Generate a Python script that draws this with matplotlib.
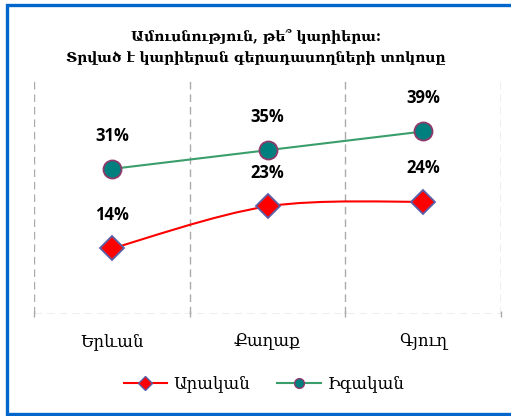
import matplotlib
matplotlib.use("Agg")
import matplotlib.pyplot as plt
from matplotlib.path import Path
from matplotlib.patches import PathPatch
from matplotlib.lines import Line2D

categories = ["Երևան", "Քաղաք", "Գյուղ"]
male = [14, 23, 24]
female = [31, 35, 39]
series_names = ["Արական", "Իգական"]
title = "Ամուսնություն, թե՞ կարիերա:\nՏրված է կարիերան գերադասողների տոկոսը"

arm_font = ["DejaVu Serif", "DejaVu Sans"]
num_font = ["Open Sans", "DejaVu Sans"]

fig = plt.figure(figsize=(5.11, 4.16), dpi=100)
ax = fig.add_axes([34/511, 1-314/416, (501-34)/511, (314-80)/416])

x = list(range(len(categories)))


def smooth_path(xs, ys):
    pts = list(zip(xs, ys))
    n = len(pts)
    verts = [pts[0]]
    codes = [Path.MOVETO]
    for i in range(n - 1):
        p0 = pts[i - 1] if i > 0 else pts[i]
        p1 = pts[i]
        p2 = pts[i + 1]
        p3 = pts[i + 2] if i + 2 < n else pts[i + 1]
        c1 = (p1[0] + (p2[0] - p0[0]) / 6, p1[1] + (p2[1] - p0[1]) / 6)
        c2 = (p2[0] - (p3[0] - p1[0]) / 6, p2[1] - (p3[1] - p1[1]) / 6)
        verts += [c1, c2, p2]
        codes += [Path.CURVE4] * 3
    return Path(verts, codes)


red_line = "#FF0000"
green_line = "#3A9E6A"

ax.add_patch(PathPatch(smooth_path(x, male), facecolor="none", edgecolor=red_line, lw=1.5, zorder=3))
ax.add_patch(PathPatch(smooth_path(x, female), facecolor="none", edgecolor=green_line, lw=1.5, zorder=3))

ax.plot(x, male, ls="none", marker="D", ms=12.5, mfc="#FF0000", mec="#5A5FA8", mew=1.3, zorder=4)
ax.plot(x, female, ls="none", marker="o", ms=13, mfc="#007F7F", mec="#8E3A6A", mew=1.3, zorder=4)

for xi, v in zip(x, male):
    ax.annotate(f"{v}%", (xi, v), xytext=(0, 24), textcoords="offset points", ha="center", va="center",
                fontsize=12, fontweight="bold", family=num_font, color="#000000")
for xi, v in zip(x, female):
    ax.annotate(f"{v}%", (xi, v), xytext=(0, 24), textcoords="offset points", ha="center", va="center",
                fontsize=12, fontweight="bold", family=num_font, color="#000000")

ax.set_xlim(-0.5, len(categories) - 0.5)
ax.set_ylim(0, 50)

grid_kw = dict(color="#ABABAB", lw=1.0, ls=(0, (5.5, 3.5)), zorder=1)
for b in [i - 0.5 for i in range(len(categories) + 1)]:
    ax.axvline(b, **grid_kw)
ax.axhline(0, **grid_kw)

for s in ax.spines.values():
    s.set_visible(False)
ax.set_yticks([])
ax.set_xticks([i - 0.5 for i in range(len(categories) + 1)], minor=False)
ax.set_xticklabels([])
ax.tick_params(axis="x", length=5, color="#ABABAB", width=1.0, direction="inout")
ax.set_xticks(x, minor=True)
ax.set_xticklabels(categories, minor=True, family=arm_font, fontsize=12)
ax.tick_params(axis="x", which="minor", length=0, pad=14)

fig.text(0.5, 1 - 47/416, title, ha="center", va="center", fontsize=10, fontweight="bold",
         family=arm_font, linespacing=1.75)

handles = [
    Line2D([], [], color=red_line, lw=1.5, marker="D", ms=7, mfc="#FF0000", mec="#5A5FA8", mew=1.0),
    Line2D([], [], color=green_line, lw=1.5, marker="o", ms=7, mfc="#007F7F", mec="#8E3A6A", mew=1.0),
]
fig.legend(handles, series_names, loc="center", bbox_to_anchor=(264/511, 1 - 384/416), ncol=2,
           frameon=False, prop={"family": arm_font, "size": 12}, handlelength=2.6,
           columnspacing=1.6, handletextpad=0.4)

xl, xr = 6.5/511, 1.02
yt, yb = 1 - 4.5/416, 1 - 413.5/416
fig.add_artist(Line2D([xr, xl, xl, xr], [yt, yt, yb, yb], transform=fig.transFigure,
                      color="#0066CC", lw=2.4, solid_joinstyle="miter", clip_on=False))

fig.savefig("out.png", dpi=100)
